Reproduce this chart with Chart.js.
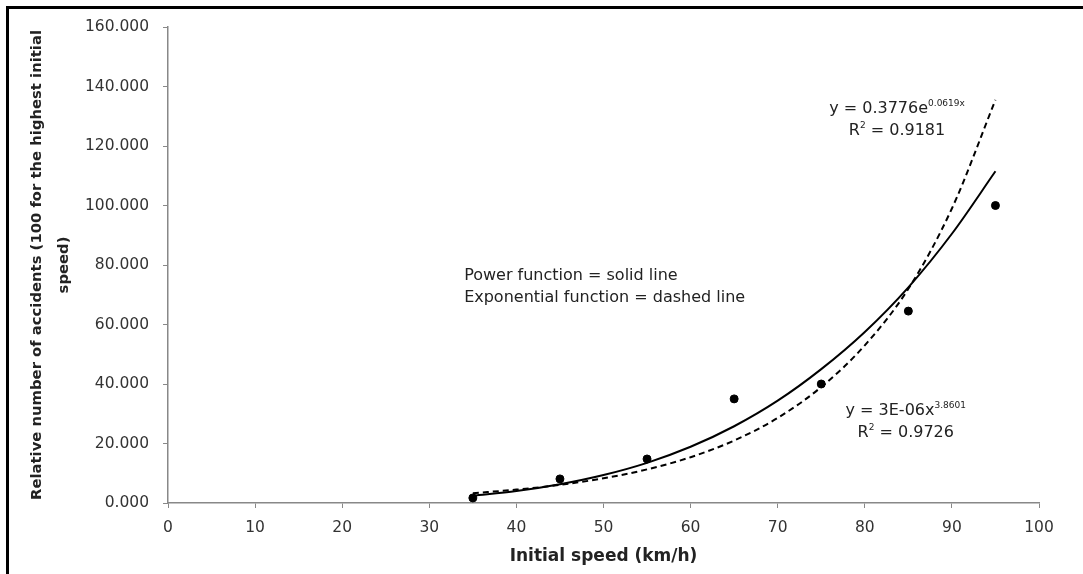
<!DOCTYPE html>
<html>
<head>
<meta charset="utf-8">
<script src="https://cdn.jsdelivr.net/npm/chart.js@4.4.1/dist/chart.umd.min.js"></script>
<style>
  html, body { margin: 0; padding: 0; background: #fff; }
  #wrap { position: relative; width: 1083px; height: 574px; }
  #frame {
    position: absolute; left: 6px; top: 6px; right: 0; bottom: 0;
    border-top: 3px solid #000; border-left: 3px solid #000;
    pointer-events: none;
  }
</style>
</head>
<body>
<div id="wrap">
  <canvas id="chart" width="1083" height="574"></canvas>
  <div id="frame"></div>
</div>
<script>
// Observed data: initial speed (km/h) vs relative number of accidents
const speeds = [35, 45, 55, 65, 75, 85, 95];
const accidents = [1.7, 8.1, 14.8, 35.0, 40.0, 64.5, 100.0];

// Trend lines, every 5 km/h
const trendX = [35, 40, 45, 50, 55, 60, 65, 70, 75, 80, 85, 90, 95];
const powerY = [2.4, 4.0, 6.3, 9.4, 13.5, 18.9, 25.8, 34.4, 45.0, 57.5, 72.5, 90.5, 111.5];
const expY = [3.3, 4.5, 6.1, 8.3, 11.3, 15.4, 21.0, 28.6, 39.0, 53.0, 72.0, 99.0, 135.5];

const xTicks = [0, 10, 20, 30, 40, 50, 60, 70, 80, 90, 100];
const yTicks = [0, 20, 40, 60, 80, 100, 120, 140, 160];

const toXY = (xs, ys) => xs.map((x, i) => ({ x: x, y: ys[i] }));

const FONT = "'DejaVu Sans', sans-serif";
const AXIS_GREY = "#888";

// ---------------------------------------------------------
// Text notes drawn on top (equation labels etc.)
// ---------------------------------------------------------
const notes = [
  { x: 34, y: 76.5, align: "left", parts: [["Power function = solid line"]] },
  { x: 34, y: 69.0, align: "left", parts: [["Exponential function = dashed line"]] },
  { x: 83.7, y: 132.5, align: "center", parts: [["y = 0.3776e"], ["0.0619x", true]] },
  { x: 83.7, y: 125.0, align: "center", parts: [["R"], ["2", true], [" = 0.9181"]] },
  { x: 84.7, y: 31.0, align: "center", parts: [["y = 3E-06x"], ["3.8601", true]] },
  { x: 84.7, y: 23.7, align: "center", parts: [["R"], ["2", true], [" = 0.9726"]] }
];

const notesPlugin = {
  id: "notes",
  afterDatasetsDraw(chart) {
    const ctx = chart.ctx;
    const xs = chart.scales.x, ys = chart.scales.y;
    ctx.save();
    ctx.fillStyle = "#222";
    ctx.textBaseline = "middle";
    notes.forEach(n => {
      const base = "16px " + FONT;
      const sup = "9px " + FONT;
      // measure total width first
      let total = 0;
      n.parts.forEach(p => {
        ctx.font = p[1] ? sup : base;
        total += ctx.measureText(p[0]).width;
      });
      let px = xs.getPixelForValue(n.x);
      const py = ys.getPixelForValue(n.y);
      if (n.align === "center") px -= total / 2;
      ctx.textAlign = "left";
      n.parts.forEach(p => {
        ctx.font = p[1] ? sup : base;
        ctx.fillText(p[0], px, p[1] ? py - 5 : py);
        px += ctx.measureText(p[0]).width;
      });
    });
    ctx.restore();
  }
};

new Chart(document.getElementById("chart"), {
  type: "scatter",
  data: {
    datasets: [
      {
        label: "Observed",
        data: toXY(speeds, accidents),
        backgroundColor: "#000",
        borderColor: "#000",
        pointRadius: 4,
        pointHoverRadius: 4
      },
      {
        label: "Power",
        data: toXY(trendX, powerY),
        showLine: true,
        borderColor: "#000",
        borderWidth: 2,
        pointRadius: 0,
        cubicInterpolationMode: "monotone",
        fill: false
      },
      {
        label: "Exponential",
        data: toXY(trendX, expY),
        showLine: true,
        borderColor: "#000",
        borderWidth: 2,
        borderDash: [6, 4],
        pointRadius: 0,
        cubicInterpolationMode: "monotone",
        fill: false
      }
    ]
  },
  options: {
    responsive: false,
    animation: false,
    layout: { padding: { top: 27, right: 44, left: 0, bottom: 0 } },
    plugins: {
      legend: { display: false },
      tooltip: { enabled: false }
    },
    scales: {
      x: {
        type: "linear",
        min: 0, max: 100,
        afterBuildTicks: s => { s.ticks = xTicks.map(v => ({ value: v })); },
        afterFit: s => { s.height = 71; },
        grid: { drawOnChartArea: false, drawTicks: true, tickLength: 5, color: AXIS_GREY },
        border: { color: AXIS_GREY, width: 1.5 },
        ticks: { color: "#333", font: { family: FONT, size: 15.5 }, padding: 11 },
        title: {
          display: true,
          text: "Initial speed (km/h)",
          color: "#222",
          font: { family: FONT, size: 17, weight: "bold" },
          padding: { top: 0, bottom: 7 }
        }
      },
      y: {
        type: "linear",
        min: 0, max: 160,
        afterBuildTicks: s => { s.ticks = yTicks.map(v => ({ value: v })); },
        afterFit: s => { s.width = 168; },
        grid: { drawOnChartArea: false, drawTicks: true, tickLength: 5, color: AXIS_GREY },
        border: { color: AXIS_GREY, width: 1.5 },
        ticks: {
          color: "#333",
          font: { family: FONT, size: 15.5 },
          padding: 14,
          callback: v => v.toFixed(3)
        },
        title: {
          display: true,
          text: ["Relative number of accidents (100 for the highest initial", "speed)"],
          color: "#222",
          font: { family: FONT, size: 14.8, weight: "bold", lineHeight: 1.85 },
          padding: { top: 23 }
        }
      }
    }
  },
  plugins: [notesPlugin]
});
</script>
</body>
</html>
